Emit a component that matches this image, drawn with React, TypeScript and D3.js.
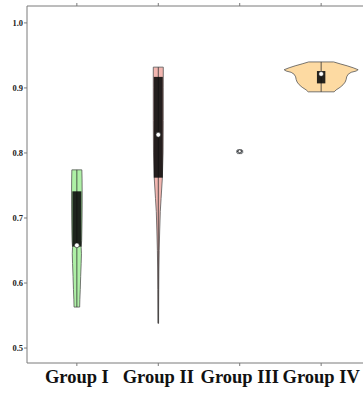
import * as d3 from "d3";
import React from "react";

// groups and colours
const groups = ["Group I", "Group II", "Group III", "Group IV"];
const fills = ["#aef0a6", "#f2b6b0", "#dce9f5", "#fddaa2"];

// density profiles: [value, density]
const densityI: [number, number][] = [
  [0.774, 5.0], [0.76, 5.2], [0.74, 5.3], [0.72, 5.3], [0.70, 5.2], [0.68, 5.0],
  [0.665, 4.8], [0.655, 4.3], [0.645, 4.6], [0.63, 4.3], [0.61, 3.8], [0.59, 3.4],
  [0.575, 3.0], [0.563, 2.8],
];
const densityII: [number, number][] = [
  [0.932, 5.0], [0.9, 5.0], [0.85, 5.0], [0.8, 4.8], [0.76, 4.0], [0.73, 2.8],
  [0.71, 2.0], [0.68, 1.4], [0.65, 0.9], [0.62, 0.6], [0.59, 0.45], [0.56, 0.35],
  [0.538, 0.3],
];
const densityIII: [number, number][] = [
  [0.805, 2.2], [0.8035, 3.0], [0.8005, 3.0], [0.799, 2.2],
];
const densityIV: [number, number][] = [
  [0.940, 12.5], [0.937, 19], [0.934, 26], [0.931, 32], [0.928, 37], [0.926, 35],
  [0.924, 30], [0.921, 27], [0.917, 25.5], [0.913, 25], [0.909, 24], [0.905, 22],
  [0.901, 19], [0.897, 15], [0.894, 13],
];
const densities = [densityI, densityII, densityIII, densityIV];

// box stats: [whiskerLow, q1, median, q3, whiskerHigh]
const boxStats: [number, number, number, number, number][] = [
  [0.563, 0.656, 0.658, 0.741, 0.774],
  [0.538, 0.762, 0.828, 0.917, 0.932],
  [0.799, 0.8008, 0.8025, 0.804, 0.805],
  [0.894, 0.907, 0.9215, 0.926, 0.940],
];
const boxHalf = [4.5, 4.5, 2.5, 4.2];

const yTicks = [0.5, 0.6, 0.7, 0.8, 0.9, 1.0];

export default function App() {
  const width = 363;
  const height = 393;
  const left = 27;
  const top = 6;
  const bottom = 363;

  const x = d3.scalePoint<string>().domain(groups).range([28, 370]).padding(0.6);
  const y = d3.scaleLinear().domain([0.477, 1.026]).range([bottom, top]);
  const w = d3.scaleLinear().domain([0, 37]).range([0, 37]);

  const axisColor = "#7a7a7a";

  return (
    <svg width={width} height={height} style={{ position: "absolute", left: 0, top: 0, background: "#fff" }}>
      {/* panel border */}
      <line x1={left} x2={width + 10} y1={top} y2={top} stroke={axisColor} strokeWidth={1} />
      <line x1={left} x2={width + 10} y1={bottom} y2={bottom} stroke={axisColor} strokeWidth={1} />
      <line x1={left} x2={left} y1={top} y2={bottom} stroke={axisColor} strokeWidth={1} />

      {/* y axis */}
      {yTicks.map((t) => (
        <g key={t}>
          <line x1={left - 3} x2={left} y1={y(t)} y2={y(t)} stroke={axisColor} />
          <text x={left - 4} y={y(t)} dy="0.35em" textAnchor="end"
            style={{ fontFamily: "'Liberation Serif', serif", fontWeight: "bold", fontSize: 8.5, fill: "#222" }}>
            {t.toFixed(1)}
          </text>
        </g>
      ))}

      {/* x ticks and labels */}
      {groups.map((g) => (
        <g key={g}>
          <line x1={x(g)} x2={x(g)} y1={bottom} y2={bottom + 3} stroke={axisColor} />
          <line x1={x(g)} x2={x(g)} y1={top - 3} y2={top} stroke={axisColor} />
          <text x={x(g)} y={383} textAnchor="middle"
            style={{ fontFamily: "'Liberation Serif', serif", fontWeight: "bold", fontSize: 18.5, fill: "#111" }}>
            {g}
          </text>
        </g>
      ))}

      {/* violins */}
      {groups.map((g, i) => {
        const cx = x(g) as number;
        const area = d3.area<[number, number]>()
          .y((d) => y(d[0]))
          .x0((d) => cx - w(d[1]))
          .x1((d) => cx + w(d[1]));
        const [lo, q1, med, q3, hi] = boxStats[i];
        const bh = boxHalf[i];
        return (
          <g key={g}>
            <path d={area(densities[i]) || ""} fill={fills[i]} stroke="#555" strokeWidth={0.8} />
            <line x1={cx} x2={cx} y1={y(hi)} y2={y(lo)} stroke="#333" strokeWidth={1} opacity={0.8} />
            <rect x={cx - bh} y={y(q3)} width={bh * 2} height={Math.max(1, y(q1) - y(q3))}
              fill="#0d0d0d" opacity={0.9} />
            <circle cx={cx} cy={y(med)} r={i === 2 ? 1.5 : 2.4} fill="#fff" stroke="#222" strokeWidth={0.6} />
          </g>
        );
      })}
    </svg>
  );
}
